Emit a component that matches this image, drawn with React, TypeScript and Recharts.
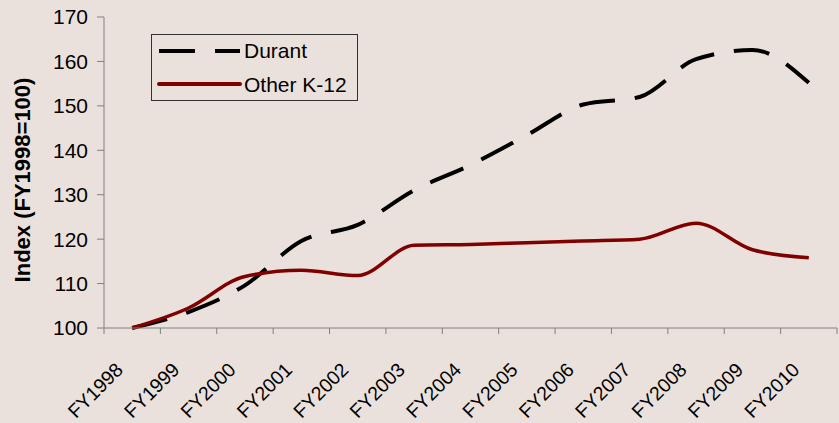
import React from "react";
import { LineChart, Line, XAxis, YAxis, Legend } from "recharts";

const years = ["FY1998", "FY1999", "FY2000", "FY2001", "FY2002", "FY2003", "FY2004", "FY2005", "FY2006", "FY2007", "FY2008", "FY2009", "FY2010"];
const durant = [100, 103.6, 109.6, 119.6, 123.2, 131, 136.7, 143.4, 150.3, 152, 160.5, 162.6, 155.2];
const otherK12 = [100, 104.5, 111.6, 113, 111.8, 118.6, 118.8, 119.2, 119.6, 120, 123.6, 117.6, 115.8];
const yTicks = [100, 110, 120, 130, 140, 150, 160, 170];

const data = years.map((y, i) => ({ year: y, durant: durant[i], other: otherK12[i] }));

const BG = "#EBE1DC";
const W = 839;
const H = 423;
const LEFT = 104;
const RIGHT = 2;
const TOP = 17;
const BOTTOM = 95;
const band = (W - LEFT - RIGHT) / years.length;
const FONT = "Arial, 'Liberation Sans', sans-serif";

function XTick(props: any) {
  const { x, payload, index } = props;
  const axisY = H - BOTTOM;
  const last = index === years.length - 1;
  const tx = x - 8;
  const ty = axisY + 43;
  return (
    <g>
      <line x1={x - band / 2} x2={x - band / 2} y1={axisY} y2={axisY + 6} stroke="#808080" />
      {last && <line x1={x + band / 2} x2={x + band / 2} y1={axisY} y2={axisY + 6} stroke="#808080" />}
      <text x={tx} y={ty} textAnchor="end" transform={`rotate(-45 ${tx} ${ty})`} fontSize={19.5} fontFamily={FONT} fill="#000">
        {payload.value}
      </text>
    </g>
  );
}

function YLabel() {
  return (
    <text x={30} y={180} textAnchor="middle" transform="rotate(-90 30 180)" fontSize={22} fontWeight="bold" fontFamily={FONT} fill="#000">
      Index (FY1998=100)
    </text>
  );
}

function LegendBox() {
  return (
    <div style={{ width: 205, height: 65, border: "1px solid #333", background: BG, position: "relative", fontFamily: FONT, fontSize: 21 }}>
      <svg width={92} height={65} style={{ position: "absolute", left: 0, top: 0 }}>
        <line x1={7} x2={88} y1={16} y2={16} stroke="#000" strokeWidth={4} strokeDasharray="36 20" />
        <line x1={7} x2={88} y1={49} y2={49} stroke="#800000" strokeWidth={4} strokeLinecap="round" />
      </svg>
      <div style={{ position: "absolute", left: 92, top: 4, whiteSpace: "nowrap" }}>Durant</div>
      <div style={{ position: "absolute", left: 92, top: 38, whiteSpace: "nowrap" }}>Other K-12</div>
    </div>
  );
}

export default function App() {
  return (
    <div style={{ position: "absolute", left: 0, top: 0, width: W, height: H, background: BG }}>
      <LineChart width={W} height={H} data={data} margin={{ top: TOP, right: RIGHT, left: 0, bottom: 0 }}>
        <XAxis
          dataKey="year"
          height={BOTTOM}
          tick={<XTick />}
          tickLine={false}
          axisLine={{ stroke: "#808080" }}
          interval={0}
          padding={{ left: band / 2, right: band / 2 }}
        />
        <YAxis
          domain={[100, 170]}
          ticks={yTicks}
          width={LEFT}
          tickSize={7}
          tickMargin={9}
          axisLine={{ stroke: "#808080" }}
          tickLine={{ stroke: "#808080" }}
          tick={{ fill: "#000", fontSize: 21, fontFamily: FONT }}
          label={<YLabel />}
        />
        <Legend
          layout="horizontal"
          verticalAlign="middle"
          align="center"
          content={<LegendBox />}
          wrapperStyle={{ left: 151, top: 34, width: 207 }}
        />
        <Line type="monotone" dataKey="durant" stroke="#000" strokeWidth={4} strokeDasharray="36 20" dot={false} isAnimationActive={false} />
        <Line type="monotone" dataKey="other" stroke="#800000" strokeWidth={3.5} dot={false} isAnimationActive={false} />
      </LineChart>
    </div>
  );
}
